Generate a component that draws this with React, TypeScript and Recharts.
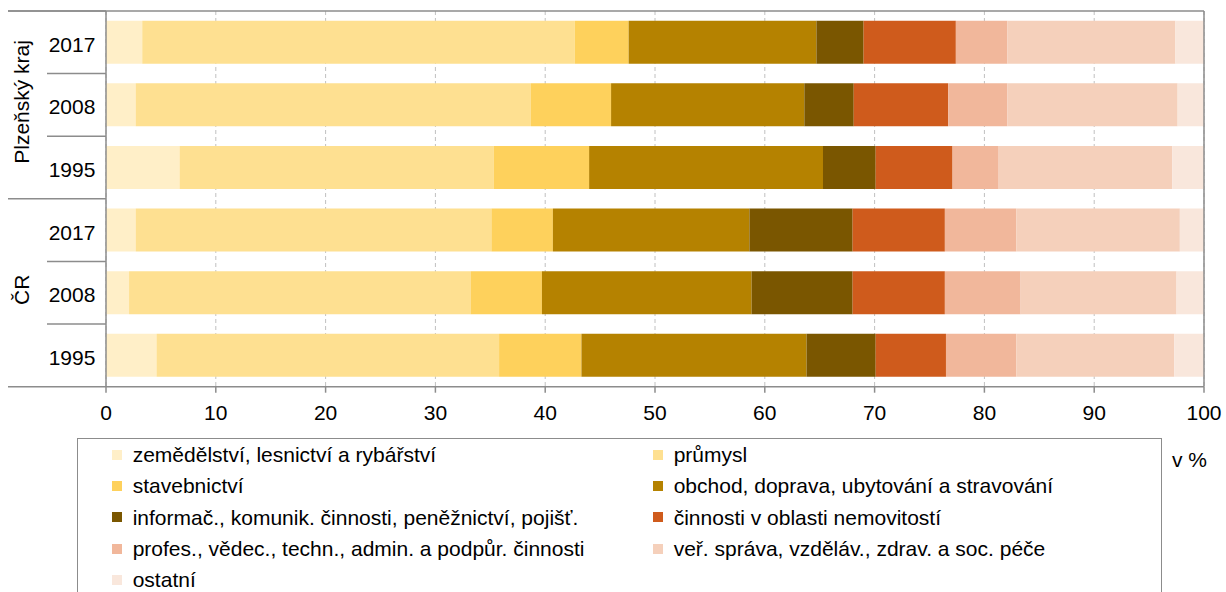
import React from "react";
import { BarChart, Bar, XAxis, YAxis, CartesianGrid, Legend, ReferenceLine } from "recharts";

const FONT = "'Liberation Sans', Arial, sans-serif";
const AXIS = "#8c8c8c";

const GROUPS = ["Plzeňský kraj", "ČR"];
const YEARS = ["2017", "2008", "1995"];
const SECTORS = [
  "zemědělství, lesnictví a rybářství",
  "průmysl",
  "stavebnictví",
  "obchod, doprava, ubytování a stravování",
  "informač., komunik. činnosti, peněžnictví, pojišť.",
  "činnosti v oblasti nemovitostí",
  "profes., vědec., techn., admin. a podpůr. činnosti",
  "veř. správa, vzděláv., zdrav. a soc. péče",
  "ostatní",
];
const COLORS = ["#ffefc8", "#fee091", "#fed15c", "#b58200", "#7a5600", "#cf5b1c", "#f1b79b", "#f5d0bb", "#f9e7dc"];

// shares in %, order = SECTORS
const PLZEN_2017 = [3.3, 39.4, 4.9, 17.1, 4.3, 8.4, 4.7, 15.3, 2.6];
const PLZEN_2008 = [2.7, 36.0, 7.3, 17.6, 4.5, 8.6, 5.4, 15.5, 2.4];
const PLZEN_1995 = [6.7, 28.6, 8.7, 21.3, 4.8, 7.0, 4.2, 15.8, 2.9];
const CR_2017 = [2.7, 32.4, 5.6, 17.9, 9.4, 8.4, 6.5, 14.9, 2.2];
const CR_2008 = [2.1, 31.1, 6.5, 19.1, 9.2, 8.4, 6.9, 14.2, 2.5];
const CR_1995 = [4.6, 31.2, 7.5, 20.5, 6.3, 6.4, 6.4, 14.4, 2.7];

const X_TICKS = [0, 10, 20, 30, 40, 50, 60, 70, 80, 90, 100];

const SERIES = [
  [PLZEN_2017, PLZEN_2008, PLZEN_1995],
  [CR_2017, CR_2008, CR_1995],
];

const rows = GROUPS.flatMap((group, g) =>
  YEARS.map((year, y) => {
    const row: Record<string, any> = { key: `${group} ${year}`, group, year };
    SERIES[g][y].forEach((v, i) => (row[`s${i}`] = v));
    return row;
  })
);

const W = 1226;
const H = 592;
const PLOT_LEFT = 106;
const PLOT_RIGHT = 1204;
const PLOT_TOP = 11;
const PLOT_BOTTOM = 386.7;
const LEGEND_H = 154;
const BAND = (PLOT_BOTTOM - PLOT_TOP) / rows.length;

const YTick = (props: any) => {
  const { y, payload, index } = props;
  const row = rows.find((r) => r.key === payload.value) || rows[index];
  const top = y - BAND / 2;
  const groupStart = index % YEARS.length === 0;
  const line = { stroke: AXIS, strokeWidth: 1.5 };
  return (
    <g>
      {index === 0 && <line x1={8} x2={PLOT_RIGHT} y1={top} y2={top} {...line} />}
      <line x1={groupStart ? 8 : 47} x2={PLOT_LEFT} y1={top} y2={top} {...line} />
      {index === rows.length - 1 && (
        <line x1={8} x2={PLOT_LEFT} y1={y + BAND / 2} y2={y + BAND / 2} {...line} />
      )}
      <text x={72} y={y + 9.5} textAnchor="middle" fontSize={21} fontFamily={FONT} fill="#000">
        {row.year}
      </text>
      {index % YEARS.length === 1 && (
        <text
          transform={`translate(29, ${y - 3}) rotate(-90)`}
          textAnchor="middle"
          fontSize={21}
          fontFamily={FONT}
          fill="#000"
        >
          {row.group}
        </text>
      )}
    </g>
  );
};

const LegendBox = () => (
  <div style={{ position: "relative", width: 1150, height: LEGEND_H, fontFamily: FONT }}>
    <div
      style={{
        position: "absolute",
        left: 0,
        top: 0,
        width: 1085,
        height: LEGEND_H,
        boxSizing: "border-box",
        border: `1.5px solid ${AXIS}`,
        borderBottom: "none",
        display: "grid",
        gridTemplateColumns: "541px 1fr",
        gridAutoRows: "31.3px",
        paddingLeft: 34,
      }}
    >
      {SECTORS.map((name, i) => (
        <div key={name} style={{ display: "flex", alignItems: "center", whiteSpace: "nowrap" }}>
          <span style={{ width: 10, height: 10, background: COLORS[i], marginRight: 10.7, flex: "none" }} />
          <span style={{ fontSize: 21, lineHeight: "21px", color: "#000" }}>{name}</span>
        </div>
      ))}
    </div>
    <div style={{ position: "absolute", left: 1095, top: 11, fontSize: 21, lineHeight: "21px", color: "#000" }}>
      v %
    </div>
  </div>
);

export default function App() {
  return (
    <div style={{ position: "absolute", left: 0, top: 0, width: W, height: H, overflow: "hidden", background: "#fff" }}>
      <BarChart
        width={W}
        height={H}
        data={rows}
        layout="vertical"
        margin={{ top: PLOT_TOP, right: W - PLOT_RIGHT, bottom: 0, left: 0 }}
        barCategoryGap="15.5%"
      >
        <CartesianGrid horizontal={false} stroke="#c0c0c0" strokeDasharray="4 3" />
        <XAxis
          type="number"
          domain={[0, 100]}
          allowDataOverflow
          ticks={X_TICKS}
          height={H - LEGEND_H - PLOT_BOTTOM}
          axisLine={{ stroke: AXIS, strokeWidth: 1.5 }}
          tickLine={{ stroke: AXIS, strokeWidth: 1.5 }}
          tickSize={6}
          tickMargin={12}
          tick={{ fill: "#000", fontSize: 21, fontFamily: FONT }}
        />
        <YAxis
          type="category"
          dataKey="key"
          width={PLOT_LEFT}
          axisLine={{ stroke: AXIS, strokeWidth: 1.5 }}
          tickLine={false}
          tick={<YTick />}
          interval={0}
        />
        {SECTORS.map((name, i) => (
          <Bar key={name} dataKey={`s${i}`} name={name} stackId="a" fill={COLORS[i]} isAnimationActive={false} />
        ))}
        <ReferenceLine x={100} stroke={AXIS} strokeWidth={1.5} />
        <Legend
          verticalAlign="bottom"
          align="left"
          content={<LegendBox />}
          wrapperStyle={{ left: 77, width: 1150, height: LEGEND_H }}
        />
      </BarChart>
    </div>
  );
}
